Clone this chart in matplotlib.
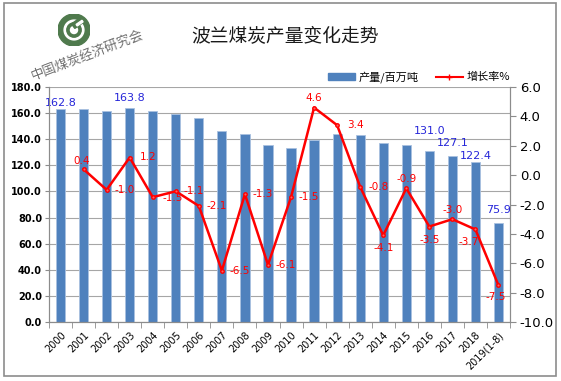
import matplotlib
matplotlib.use("Agg")
import matplotlib.pyplot as plt
import numpy as np
from matplotlib.patches import Circle, Rectangle, Patch
from matplotlib.lines import Line2D

plt.rcParams['font.family'] = ['Noto Sans CJK SC', 'DejaVu Sans']

years = ["2000", "2001", "2002", "2003", "2004", "2005", "2006", "2007", "2008", "2009",
         "2010", "2011", "2012", "2013", "2014", "2015", "2016", "2017", "2018", "2019(1-8)"]
production = [162.8, 163.5, 161.8, 163.8, 161.3, 159.5, 156.2, 146.0, 144.1, 135.3,
              133.3, 139.4, 144.1, 142.9, 137.1, 135.9, 131.0, 127.1, 122.4, 75.9]
growth = [None, 0.4, -1.0, 1.2, -1.5, -1.1, -2.1, -6.5, -1.3, -6.1,
          -1.5, 4.6, 3.4, -0.8, -4.1, -0.9, -3.5, -3.0, -3.7, -7.5]
prod_labeled = {"2000": 162.8, "2003": 163.8, "2016": 131.0, "2017": 127.1,
                "2018": 122.4, "2019(1-8)": 75.9}
left_ticks = [0, 20, 40, 60, 80, 100, 120, 140, 160, 180]
right_ticks = [-10, -8, -6, -4, -2, 0, 2, 4, 6]

W, H = 561, 381
fig = plt.figure(figsize=(W / 100, H / 100), dpi=100)
fig.patch.set_facecolor("white")

# outer frame
fig.patches.append(Rectangle((4 / W, 5 / H), 552 / W, 373 / H, transform=fig.transFigure,
                             fill=False, edgecolor="#8c8c8c", linewidth=1.2))

ax = fig.add_axes([49 / W, (H - 322) / H, (510 - 49) / W, (322 - 87) / H])
x = np.arange(len(years))
bar_color = "#4F81BD"
ax.bar(x, production, width=0.4, color=bar_color, edgecolor="#a9c1e0", linewidth=0.6, zorder=2)
ax.set_ylim(0, 180)
ax.set_xlim(-0.5, len(years) - 0.5)
ax.set_yticks(left_ticks)
ax.set_yticklabels([f"{v:.1f}" for v in left_ticks], fontsize=7, fontweight="bold",
                   family="DejaVu Sans")
ax.grid(axis="y", color="#a6a6a6", linewidth=0.8, zorder=0)
ax.set_axisbelow(True)
ax.set_xticks(x)
ax.set_xticklabels(years, rotation=45, ha="right", va="top", rotation_mode="anchor",
                   fontsize=7, family="DejaVu Sans")
ax.tick_params(axis="x", length=0, pad=6)
ax.set_xticks(np.arange(-0.5, len(years)), minor=True)
ax.tick_params(axis="x", which="minor", length=4, color="#8c8c8c")
ax.tick_params(axis="y", length=3, color="#8c8c8c", pad=2)
ax.spines["top"].set_visible(False)
for s in ["left", "bottom", "right"]:
    ax.spines[s].set_color("#8c8c8c")

# bar label offsets (pixels above bar top, to label centre)
bar_off = {"2000": 6, "2003": 10, "2016": 20, "2017": 13, "2018": 6, "2019(1-8)": 13}
for i, yr in enumerate(years):
    if yr in prod_labeled:
        ax.annotate(f"{prod_labeled[yr]:.1f}", (i, production[i]), xytext=(0, bar_off[yr]),
                    textcoords="offset pixels", ha="center", va="center",
                    color="#2626d9", fontsize=8, family="DejaVu Sans")

ax2 = ax.twinx()
ax2.set_ylim(-10, 6)
ax2.set_yticks(right_ticks)
ax2.set_yticklabels([f"{v:.1f}" for v in right_ticks], fontsize=9.5, family="DejaVu Sans")
ax2.tick_params(axis="y", length=4, color="#8c8c8c", pad=3)
ax2.spines["top"].set_visible(False)
for s in ["left", "bottom", "right"]:
    ax2.spines[s].set_color("#8c8c8c")

gx = [i for i, g in enumerate(growth) if g is not None]
gy = [g for g in growth if g is not None]
ax2.plot(gx, gy, color="#ff0000", linewidth=1.8, marker="o", markersize=2.5,
         markerfacecolor="#ff6060", markeredgecolor="#ff0000", zorder=3)

# label offsets (pixels): right by default
offsets = {1: (-2, 8), 4: (20, -1), 11: (0, 10),
           14: (0, -13), 15: (0, 9), 16: (0, -13),
           17: (0, 9), 18: (-7, -13), 19: (-3, -12)}
for i, g in zip(gx, gy):
    dx, dy = offsets.get(i, (18, 0))
    ax2.annotate(f"{g:.1f}", (i, g), xytext=(dx, dy), textcoords="offset pixels",
                 ha="center", va="center", color="#ff0000", fontsize=7.5, family="DejaVu Sans")

# title
fig.text(285 / W, 1 - 36 / H, "波兰煤炭产量变化走势", ha="center", va="center", fontsize=13.5,
         color="#1a1a1a")

# logo
logo_ax = fig.add_axes([(74 - 16) / W, 1 - (30 + 16) / H, 32 / W, 32 / H])
logo_ax.set_xlim(-1, 1)
logo_ax.set_ylim(-1, 1)
logo_ax.set_aspect("equal")
logo_ax.axis("off")
green = "#4f7a4d"
logo_ax.add_patch(Circle((0, 0), 1.0, color=green))
logo_ax.add_patch(Circle((0, 0), 0.62, color="white"))
logo_ax.add_patch(Circle((0, 0), 0.45, color=green))
logo_ax.add_patch(Circle((0, 0), 0.22, color="white"))
logo_ax.add_patch(Rectangle((0.05, 0.1), 0.75, 0.35, angle=35, color=green))
logo_ax.add_patch(Rectangle((0.2, 0.25), 0.45, 0.12, angle=35, color="white"))
fig.text(88 / W, 1 - 56 / H, "中国煤炭经济研究会", ha="center", va="center", rotation=21,
         fontsize=9.5, color="#707070")

# legend
handles = [Patch(facecolor=bar_color, edgecolor=bar_color),
           Line2D([0], [0], color="#ff0000", linewidth=1.5, marker="+", markersize=4)]
fig.legend(handles, ["产量/百万吨", "增长率%"], loc="center", bbox_to_anchor=(419 / W, 1 - 77 / H),
           ncol=2, frameon=False, fontsize=8, handlelength=2.4, handleheight=0.5,
           columnspacing=1.6, handletextpad=0.3)

fig.savefig("out.png", dpi=100)
